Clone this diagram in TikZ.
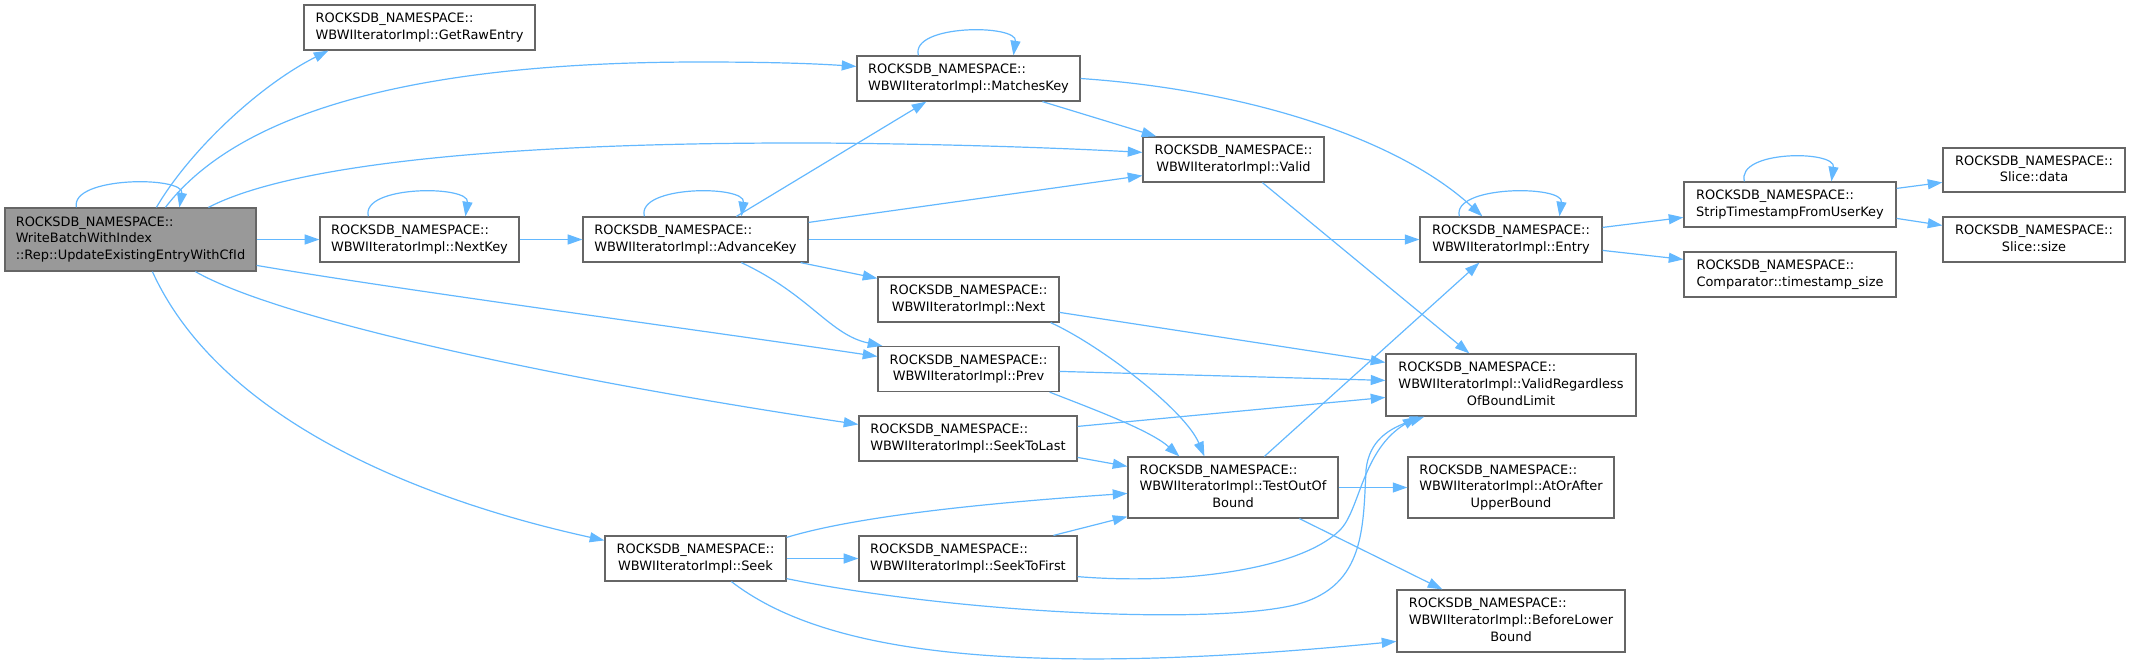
\documentclass[tikz,border=0pt]{standalone}
\usepackage{fontspec}
\setmainfont{DejaVu Sans}
\usetikzlibrary{arrows.meta,calc}
\definecolor{edgec}{HTML}{63B8FF}
\definecolor{bord}{HTML}{666666}
\definecolor{mainfill}{HTML}{999999}
\newcommand\lft[1]{\multicolumn{1}{@{}l@{}}{#1}}
\newcommand\lbl[1]{\begin{tabular}{@{}c@{}}#1\end{tabular}}
\begin{document}
\begin{tikzpicture}[x=0.75pt,y=-0.75pt,
  box/.style={draw=bord, line width=0.9pt, fill=white, inner sep=0pt,
    font=\fontsize{9.7}{12.5}\selectfont},
  mainbox/.style={box, fill=mainfill},
  edge/.style={draw=edgec, line width=0.9pt, -{Triangle[length=11pt,width=7.5pt]}}]
\useasboundingbox (0,0) rectangle (2130,669);
% nodes
\node[mainbox, minimum width=188.25pt, minimum height=47.25pt] (main) at (130.5,239.5)
  {\lbl{\lft{ROCKSDB\_NAMESPACE::}\\ \lft{WriteBatchWithIndex}\\ ::Rep::UpdateExistingEntryWithCfId}};
\node[box, minimum width=173.25pt, minimum height=33.75pt] (getraw) at (419.5,27.5)
  {\lbl{\lft{ROCKSDB\_NAMESPACE::}\\ WBWIIteratorImpl::GetRawEntry}};
\node[box, minimum width=149.25pt, minimum height=33.75pt] (nextkey) at (419.5,239.5)
  {\lbl{\lft{ROCKSDB\_NAMESPACE::}\\ WBWIIteratorImpl::NextKey}};
\node[box, minimum width=168.75pt, minimum height=33.75pt] (advkey) at (695.5,239.5)
  {\lbl{\lft{ROCKSDB\_NAMESPACE::}\\ WBWIIteratorImpl::AdvanceKey}};
\node[box, minimum width=167.25pt, minimum height=33.75pt] (matches) at (968.5,78.5)
  {\lbl{\lft{ROCKSDB\_NAMESPACE::}\\ WBWIIteratorImpl::MatchesKey}};
\node[box, minimum width=135.75pt, minimum height=33.75pt] (valid) at (1233.5,159.5)
  {\lbl{\lft{ROCKSDB\_NAMESPACE::}\\ WBWIIteratorImpl::Valid}};
\node[box, minimum width=136.5pt, minimum height=33.75pt] (entry) at (1511,239.5)
  {\lbl{\lft{ROCKSDB\_NAMESPACE::}\\ WBWIIteratorImpl::Entry}};
\node[box, minimum width=135.75pt, minimum height=33.75pt] (next) at (968.5,299.5)
  {\lbl{\lft{ROCKSDB\_NAMESPACE::}\\ WBWIIteratorImpl::Next}};
\node[box, minimum width=135.75pt, minimum height=33.75pt] (prev) at (968.5,369)
  {\lbl{\lft{ROCKSDB\_NAMESPACE::}\\ WBWIIteratorImpl::Prev}};
\node[box, minimum width=187.5pt, minimum height=46.5pt] (vrbl) at (1511,385)
  {\lbl{\lft{ROCKSDB\_NAMESPACE::}\\ \lft{WBWIIteratorImpl::ValidRegardless}\\ OfBoundLimit}};
\node[box, minimum width=163.5pt, minimum height=33.75pt] (seektolast) at (968,438.5)
  {\lbl{\lft{ROCKSDB\_NAMESPACE::}\\ WBWIIteratorImpl::SeekToLast}};
\node[box, minimum width=157.5pt, minimum height=45.75pt] (testoob) at (1233,487.5)
  {\lbl{\lft{ROCKSDB\_NAMESPACE::}\\ \lft{WBWIIteratorImpl::TestOutOf}\\ Bound}};
\node[box, minimum width=154.5pt, minimum height=45.75pt] (atorafter) at (1511,487.5)
  {\lbl{\lft{ROCKSDB\_NAMESPACE::}\\ \lft{WBWIIteratorImpl::AtOrAfter}\\ UpperBound}};
\node[box, minimum width=163.5pt, minimum height=33.75pt] (seektofirst) at (968,558.5)
  {\lbl{\lft{ROCKSDB\_NAMESPACE::}\\ WBWIIteratorImpl::SeekToFirst}};
\node[box, minimum width=171pt, minimum height=46.5pt] (beforelower) at (1511,621)
  {\lbl{\lft{ROCKSDB\_NAMESPACE::}\\ \lft{WBWIIteratorImpl::BeforeLower}\\ Bound}};
\node[box, minimum width=135.75pt, minimum height=33.75pt] (seek) at (695.5,558.5)
  {\lbl{\lft{ROCKSDB\_NAMESPACE::}\\ WBWIIteratorImpl::Seek}};
\node[box, minimum width=159pt, minimum height=33.75pt] (strip) at (1790,204.5)
  {\lbl{\lft{ROCKSDB\_NAMESPACE::}\\ StripTimestampFromUserKey}};
\node[box, minimum width=159pt, minimum height=33.75pt] (comparator) at (1790,274.5)
  {\lbl{\lft{ROCKSDB\_NAMESPACE::}\\ Comparator::timestamp\_size}};
\node[box, minimum width=136.5pt, minimum height=33pt] (slicedata) at (2034,170)
  {\lbl{\lft{ROCKSDB\_NAMESPACE::}\\ Slice::data}};
\node[box, minimum width=136.5pt, minimum height=33.75pt] (slicesize) at (2034,239.5)
  {\lbl{\lft{ROCKSDB\_NAMESPACE::}\\ Slice::size}};
% edges
\draw[edge] ($(main.north west)+(72,0)$) .. controls (70,176) and (185,176) .. ($(main.north west)+(175,0)$);
\draw[edge] ($(main.north west)+(152,0)$) .. controls (190,150) and (260,85) .. ($(getraw.south west)+(25,0)$);
\draw[edge] ($(main.north west)+(161,0)$) .. controls (240,110) and (420,62) .. (700,62) .. controls (780,62) and (820,64) .. ($(matches.north west)+(0,11)$);
\draw[edge] ($(main.north west)+(204,0)$) .. controls (290,165) and (500,142) .. (820,143) .. controls (950,144) and (1060,148) .. ($(valid.north west)+(0,16)$);
\draw[edge] (main.east) -- (nextkey.west);
\draw[edge] ($(main.north east)+(0,58)$) .. controls (400,290) and (700,330) .. ($(prev.north west)+(0,10.5)$);
\draw[edge] ($(main.south west)+(191,0)$) .. controls (280,320) and (560,380) .. ($(seektolast.north west)+(0,9)$);
\draw[edge] ($(main.south west)+(148,0)$) .. controls (220,420) and (420,500) .. ($(seek.north west)+(0,5)$);
\draw[edge] ($(nextkey.north west)+(49,0)$) .. controls (360,185) and (470,185) .. ($(nextkey.north west)+(146,0)$);
\draw[edge] (nextkey.east) -- (advkey.west);
\draw[edge] ($(advkey.north west)+(62,0)$) .. controls (636,185) and (746,185) .. ($(advkey.north west)+(159,0)$);
\draw[edge] ($(advkey.north west)+(154,0)$) -- ($(matches.south west)+(70,0)$);
\draw[edge] ($(advkey.north east)+(0,6)$) -- ($(valid.south west)+(0,-7)$);
\draw[edge] (advkey.east) -- (entry.west);
\draw[edge] ($(advkey.south east)+(-8,0)$) -- ($(next.north west)+(0,2)$);
\draw[edge] ($(advkey.south west)+(159,0)$) .. controls (810,295) and (830,335) .. ($(prev.north west)+(5,0)$);
\draw[edge] ($(matches.north west)+(62,0)$) .. controls (910,24) and (1018,24) .. ($(matches.north west)+(157,0)$);
\draw[edge] ($(matches.south west)+(186,0)$) -- ($(valid.north west)+(14,0)$);
\draw[edge] (matches.east) .. controls (1250,90) and (1400,140) .. ($(entry.north west)+(63,0)$);
\draw[edge] ($(valid.south west)+(120,0)$) -- ($(vrbl.north west)+(84,0)$);
\draw[edge] ($(entry.north west)+(40,0)$) .. controls (1451,185) and (1564,185) .. ($(entry.north west)+(140,0)$);
\draw[edge] ($(entry.north east)+(0,11)$) -- ($(strip.north west)+(0,36)$);
\draw[edge] ($(entry.north east)+(0,34)$) -- ($(comparator.north west)+(0,8)$);
\draw[edge] ($(strip.north west)+(61,0)$) .. controls (1736,150) and (1836,150) .. ($(strip.north west)+(148,0)$);
\draw[edge] ($(strip.north east)+(0,7)$) -- ($(slicedata.north west)+(0,35)$);
\draw[edge] ($(strip.north east)+(0,37)$) -- ($(slicesize.north west)+(0,9)$);
\draw[edge] ($(next.north east)+(0,36)$) -- ($(vrbl.north west)+(0,9)$);
\draw[edge] ($(next.south east)+(-9,0)$) .. controls (1100,345) and (1185,410) .. ($(testoob.north west)+(77,0)$);
\draw[edge] ($(prev.north east)+(0,25.5)$) -- ($(vrbl.north west)+(0,27)$);
\draw[edge] ($(prev.south east)+(-10,0)$) .. controls (1090,408) and (1150,430) .. ($(testoob.north west)+(52,0)$);
\draw[edge] ($(seektolast.north east)+(0,11)$) -- ($(vrbl.north west)+(0,44)$);
\draw[edge] ($(seektolast.north east)+(0,42)$) -- ($(testoob.north west)+(0,10)$);
\draw[edge] ($(testoob.north west)+(137,0)$) -- ($(entry.south west)+(60,0)$);
\draw[edge] (testoob.east) -- (atorafter.west);
\draw[edge] ($(testoob.south west)+(172,0)$) -- ($(beforelower.north west)+(46,0)$);
\draw[edge] ($(seek.north east)+(0,2)$) .. controls (860,515) and (1000,502) .. ($(testoob.north west)+(0,37)$);
\draw[edge] (seek.east) -- (seektofirst.west);
\draw[edge] ($(seek.south east)+(0,-3)$) .. controls (950,612) and (1200,625) .. (1290,606) .. controls (1365,590) and (1363,530) .. (1366,470) .. controls (1369,440) and (1390,428) .. ($(vrbl.south west)+(39,0)$);
\draw[edge] ($(seek.south west)+(127,0)$) .. controls (820,650) and (1000,680) .. ($(beforelower.north west)+(0,52)$);
\draw[edge] ($(seektofirst.north west)+(195,0)$) -- ($(testoob.south west)+(0,-2)$);
\draw[edge] ($(seektofirst.south east)+(0,-5)$) .. controls (1180,585) and (1300,570) .. (1340,530) .. controls (1360,510) and (1362,450) .. ($(vrbl.south west)+(32,0)$);
\end{tikzpicture}
\end{document}
